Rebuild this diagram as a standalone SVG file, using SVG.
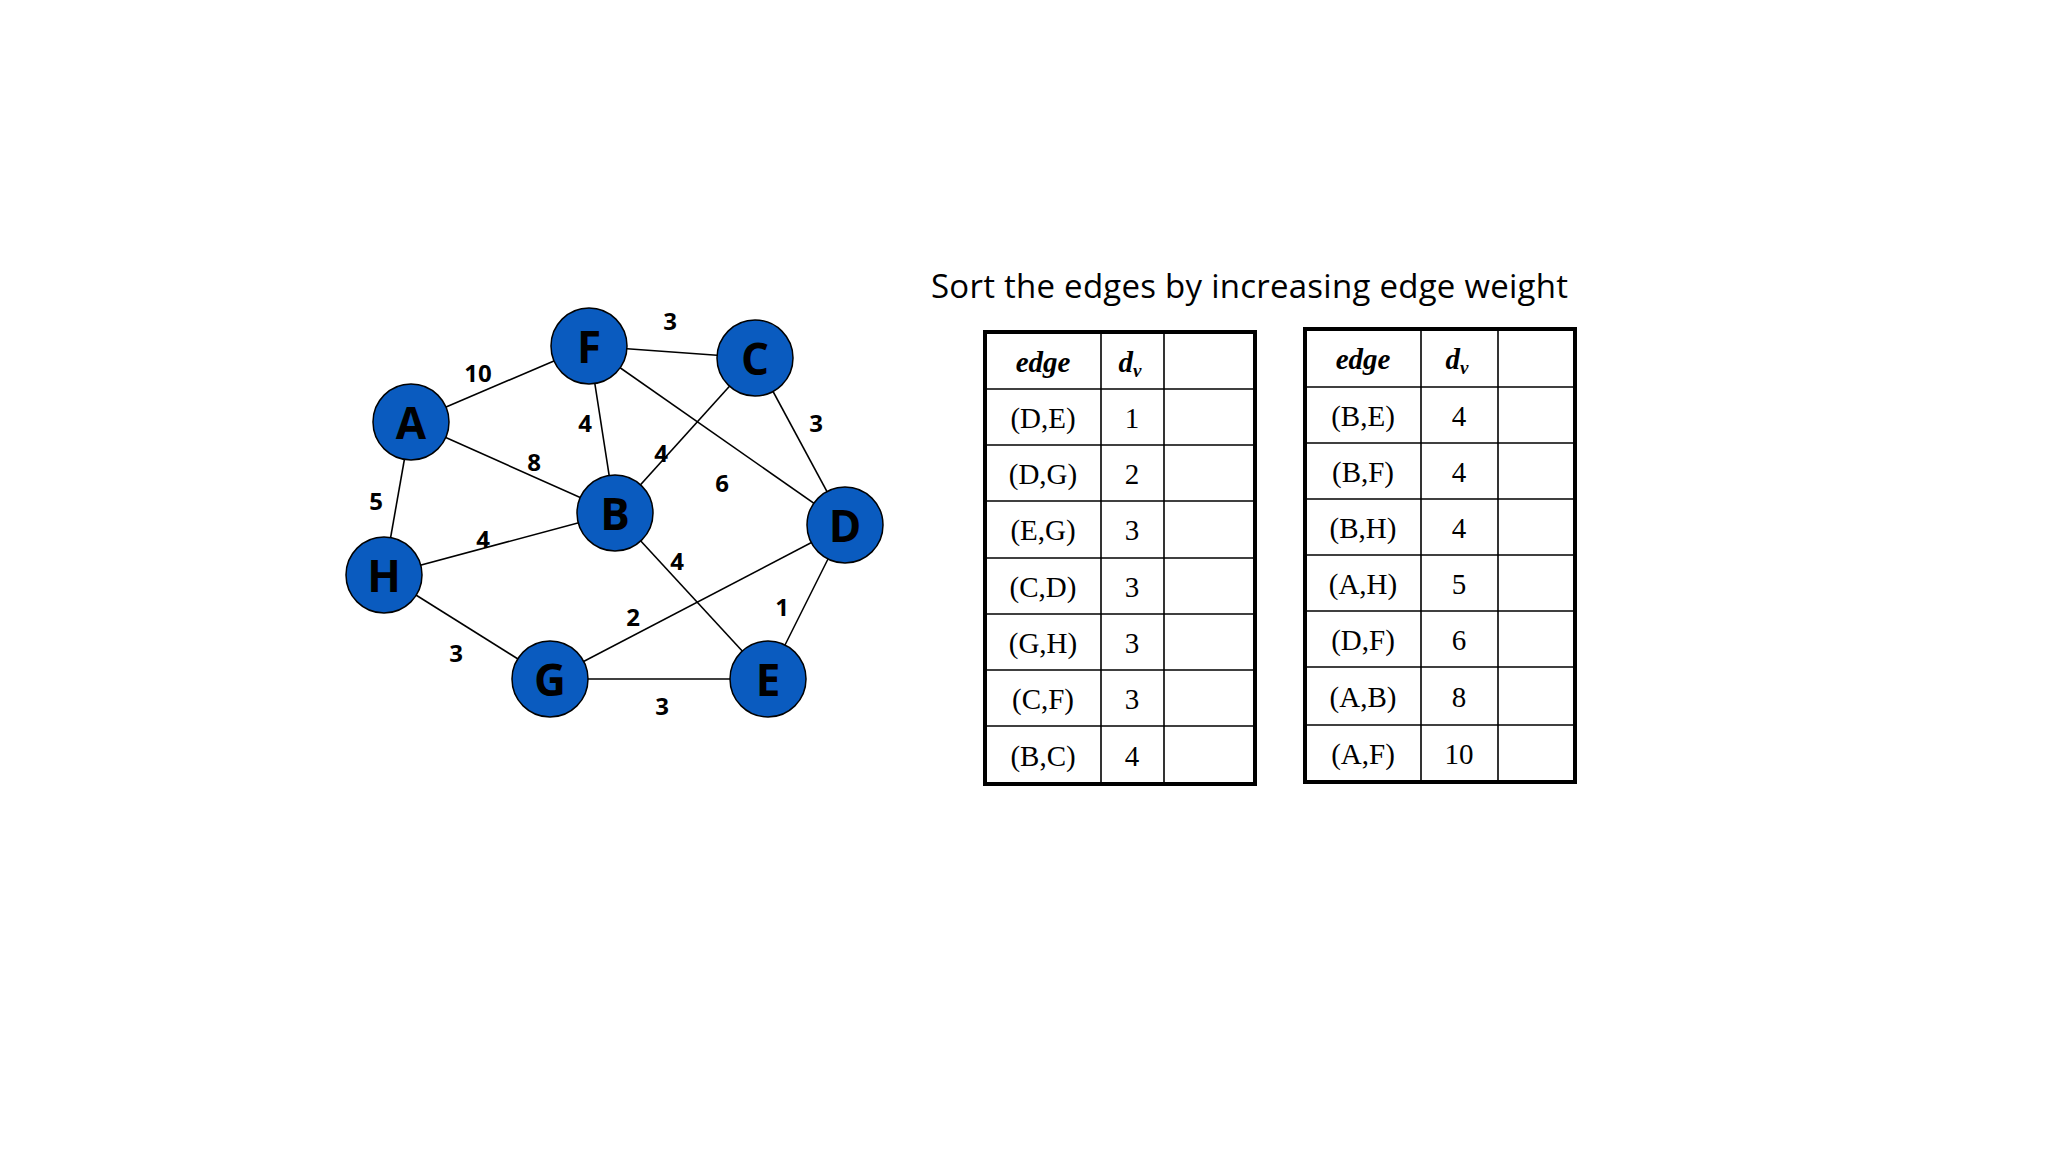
<svg xmlns="http://www.w3.org/2000/svg" width="2048" height="1152" viewBox="0 0 2048 1152">
<style>
.n{fill:#0a5bbf;stroke:#000;stroke-width:1.5}
.nl{font-family:"Open Sans","DejaVu Sans",sans-serif;font-weight:bold;font-size:44px;text-anchor:middle;dominant-baseline:central;fill:#000}
.e{stroke:#000;stroke-width:1.6;fill:none}
.w{font-family:"Open Sans","DejaVu Sans",sans-serif;font-weight:bold;font-size:24px;text-anchor:middle;dominant-baseline:central;fill:#000}
.t{font-family:"Liberation Serif",serif;font-size:29px;text-anchor:middle;dominant-baseline:central;fill:#000}
.h{font-weight:bold;font-style:italic}
.ob{fill:none;stroke:#000;stroke-width:4}
.ln{stroke:#000;stroke-width:1.6}
</style>
<rect width="2048" height="1152" fill="#fff"/>
<g id="connectors">
<line class="e" x1="589" y1="346" x2="755" y2="358"/>
<line class="e" x1="411" y1="422" x2="589" y2="346"/>
<line class="e" x1="589" y1="346" x2="615" y2="513"/>
<line class="e" x1="589" y1="346" x2="845" y2="525"/>
<line class="e" x1="755" y1="358" x2="845" y2="525"/>
<line class="e" x1="755" y1="358" x2="615" y2="513"/>
<line class="e" x1="411" y1="422" x2="615" y2="513"/>
<line class="e" x1="411" y1="422" x2="384" y2="575"/>
<line class="e" x1="384" y1="575" x2="615" y2="513"/>
<line class="e" x1="615" y1="513" x2="768" y2="679"/>
<line class="e" x1="845" y1="525" x2="768" y2="679"/>
<line class="e" x1="845" y1="525" x2="550" y2="679"/>
<line class="e" x1="384" y1="575" x2="550" y2="679"/>
<line class="e" x1="550" y1="679" x2="768" y2="679"/>
<text class="w" x="670" y="320">3</text>
<text class="w" x="478" y="372">10</text>
<text class="w" x="585" y="422">4</text>
<text class="w" x="816" y="422">3</text>
<text class="w" x="534" y="461">8</text>
<text class="w" x="661" y="452">4</text>
<text class="w" x="722" y="482">6</text>
<text class="w" x="376" y="500">5</text>
<text class="w" x="483" y="538">4</text>
<text class="w" x="677" y="560">4</text>
<text class="w" x="782" y="606">1</text>
<text class="w" x="633" y="616">2</text>
<text class="w" x="456" y="652">3</text>
<text class="w" x="662" y="705">3</text>
</g>
<g id="node-F"><circle class="n" cx="589" cy="346" r="38"/><text class="nl" x="589" y="346">F</text></g>
<g id="node-C"><circle class="n" cx="755" cy="358" r="38"/><text class="nl" x="755" y="358">C</text></g>
<g id="node-A"><circle class="n" cx="411" cy="422" r="38"/><text class="nl" x="411" y="422">A</text></g>
<g id="node-B"><circle class="n" cx="615" cy="513" r="38"/><text class="nl" x="615" y="513">B</text></g>
<g id="node-D"><circle class="n" cx="845" cy="525" r="38"/><text class="nl" x="845" y="525">D</text></g>
<g id="node-H"><circle class="n" cx="384" cy="575" r="38"/><text class="nl" x="384" y="575">H</text></g>
<g id="node-G"><circle class="n" cx="550" cy="679" r="38"/><text class="nl" x="550" y="679">G</text></g>
<g id="node-E"><circle class="n" cx="768" cy="679" r="38"/><text class="nl" x="768" y="679">E</text></g>
<text x="931" y="298" font-family="'Open Sans','DejaVu Sans',sans-serif" font-size="33" textLength="637" fill="#000">Sort the edges by increasing edge weight</text>
<g id="table1">
<line class="ln" x1="1101" y1="332" x2="1101" y2="784"/>
<line class="ln" x1="1164" y1="332" x2="1164" y2="784"/>
<line class="ln" x1="985" y1="389" x2="1255" y2="389"/>
<line class="ln" x1="985" y1="445" x2="1255" y2="445"/>
<line class="ln" x1="985" y1="501" x2="1255" y2="501"/>
<line class="ln" x1="985" y1="558" x2="1255" y2="558"/>
<line class="ln" x1="985" y1="614" x2="1255" y2="614"/>
<line class="ln" x1="985" y1="670" x2="1255" y2="670"/>
<line class="ln" x1="985" y1="726" x2="1255" y2="726"/>
<rect class="ob" x="985" y="332" width="270" height="452"/>
<text class="t h" x="1043" y="362">edge</text>
<text class="t h" x="1130" y="362">d<tspan font-size="19" dy="8">v</tspan></text>
<text class="t" x="1043" y="418">(D,E)</text><text class="t" x="1132" y="418">1</text>
<text class="t" x="1043" y="474">(D,G)</text><text class="t" x="1132" y="474">2</text>
<text class="t" x="1043" y="530">(E,G)</text><text class="t" x="1132" y="530">3</text>
<text class="t" x="1043" y="587">(C,D)</text><text class="t" x="1132" y="587">3</text>
<text class="t" x="1043" y="643">(G,H)</text><text class="t" x="1132" y="643">3</text>
<text class="t" x="1043" y="699">(C,F)</text><text class="t" x="1132" y="699">3</text>
<text class="t" x="1043" y="756">(B,C)</text><text class="t" x="1132" y="756">4</text>
</g>
<g id="table2">
<line class="ln" x1="1421" y1="329" x2="1421" y2="782"/>
<line class="ln" x1="1498" y1="329" x2="1498" y2="782"/>
<line class="ln" x1="1305" y1="387" x2="1575" y2="387"/>
<line class="ln" x1="1305" y1="443" x2="1575" y2="443"/>
<line class="ln" x1="1305" y1="499" x2="1575" y2="499"/>
<line class="ln" x1="1305" y1="555" x2="1575" y2="555"/>
<line class="ln" x1="1305" y1="611" x2="1575" y2="611"/>
<line class="ln" x1="1305" y1="667" x2="1575" y2="667"/>
<line class="ln" x1="1305" y1="725" x2="1575" y2="725"/>
<rect class="ob" x="1305" y="329" width="270" height="453"/>
<text class="t h" x="1363" y="359">edge</text>
<text class="t h" x="1457" y="359">d<tspan font-size="19" dy="8">v</tspan></text>
<text class="t" x="1363" y="416">(B,E)</text><text class="t" x="1459" y="416">4</text>
<text class="t" x="1363" y="472">(B,F)</text><text class="t" x="1459" y="472">4</text>
<text class="t" x="1363" y="528">(B,H)</text><text class="t" x="1459" y="528">4</text>
<text class="t" x="1363" y="584">(A,H)</text><text class="t" x="1459" y="584">5</text>
<text class="t" x="1363" y="640">(D,F)</text><text class="t" x="1459" y="640">6</text>
<text class="t" x="1363" y="697">(A,B)</text><text class="t" x="1459" y="697">8</text>
<text class="t" x="1363" y="754">(A,F)</text><text class="t" x="1459" y="754">10</text>
</g>
</svg>
